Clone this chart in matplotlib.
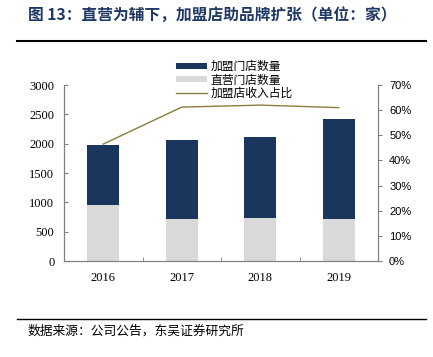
import matplotlib
matplotlib.use("Agg")
import matplotlib.pyplot as plt
from matplotlib.patches import Patch
from matplotlib.lines import Line2D

years = ["2016", "2017", "2018", "2019"]
direct = [960, 710, 730, 710]
franchise = [1010, 1360, 1390, 1710]
franchise_rev_share = [46.5, 61.2, 62.0, 61.0]

left_ticks = [0, 500, 1000, 1500, 2000, 2500, 3000]
right_ticks = [0, 10, 20, 30, 40, 50, 60, 70]

cjk = ["Noto Sans CJK SC", "DejaVu Sans"]
serif = ["Liberation Serif", "DejaVu Serif"]
sans = ["Liberation Sans", "DejaVu Sans"]

navy = "#1B365D"
gray = "#D9D9D9"
gold = "#8C7D3E"
spine_c = "#808080"

W, H = 433, 357
fig = plt.figure(figsize=(W/100, H/100), dpi=100)
ax = fig.add_axes([64/W, 1-261/H, (378-64)/W, (261-85)/H])

x = list(range(len(years)))
w = 0.41
ax.bar(x, direct, width=w, color=gray, zorder=2)
ax.bar(x, franchise, width=w, bottom=direct, color=navy, zorder=2)
ax.set_xlim(-0.5, len(years)-0.5)
ax.set_ylim(0, 3000)
ax.set_yticks(left_ticks)
ax.set_yticklabels([str(t) for t in left_ticks], fontfamily=serif, fontsize=9)
ax.set_xticks(x)
ax.set_xticklabels(years, fontfamily=serif, fontsize=9)
ax.tick_params(axis='x', length=0, pad=8)
ax.set_xticks([i - 0.5 for i in range(len(years)+1)], minor=True)
ax.tick_params(axis='x', which='minor', direction='in', length=3, color=spine_c)
ax.tick_params(axis='y', direction='in', length=3, color=spine_c, pad=7)
ax.spines['top'].set_visible(False)
for s in ['left', 'bottom', 'right']:
    ax.spines[s].set_color(spine_c)
    ax.spines[s].set_linewidth(0.8)

ax2 = ax.twinx()
ax2.plot(x, franchise_rev_share, color=gold, linewidth=1.0, zorder=3)
ax2.set_ylim(0, 70)
ax2.set_yticks(right_ticks)
ax2.set_yticklabels([f"{t}%" for t in right_ticks], fontfamily=sans, fontsize=8)
ax2.tick_params(axis='y', direction='out', length=3, color=spine_c, pad=5)
ax2.spines['top'].set_visible(False)
for s in ['left', 'bottom', 'right']:
    ax2.spines[s].set_color(spine_c)
    ax2.spines[s].set_linewidth(0.8)

handles = [Patch(facecolor=navy, edgecolor='none'),
           Patch(facecolor=gray, edgecolor='none'),
           Line2D([0], [0], color=gold, linewidth=1.0)]
labels = ["加盟门店数量", "直营门店数量", "加盟店收入占比"]
leg = fig.legend(handles, labels, loc='upper left', bbox_to_anchor=(170/W, 1-54/H),
                 frameon=False, prop={'family': cjk, 'size': 8.5},
                 handlelength=2.6, handleheight=0.45, labelspacing=0.05,
                 handletextpad=0.35, borderpad=0)

fig.text(28/W, 1-15/H, "图 13：直营为辅下，加盟店助品牌扩张（单位：家）",
         fontfamily=cjk, fontsize=11.3, fontweight='bold', color="#1F3864",
         va='center', ha='left')
fig.add_artist(Line2D([17/W, 426/W], [1-41/H, 1-41/H], color='black', linewidth=1.5))
fig.add_artist(Line2D([17/W, 426/W], [1-319/H, 1-319/H], color='black', linewidth=1.0))
fig.text(28/W, 1-331/H, "数据来源：公司公告，东吴证券研究所",
         fontfamily=cjk, fontsize=9.2, color='black', va='center', ha='left')

fig.savefig("out.png", dpi=100)
